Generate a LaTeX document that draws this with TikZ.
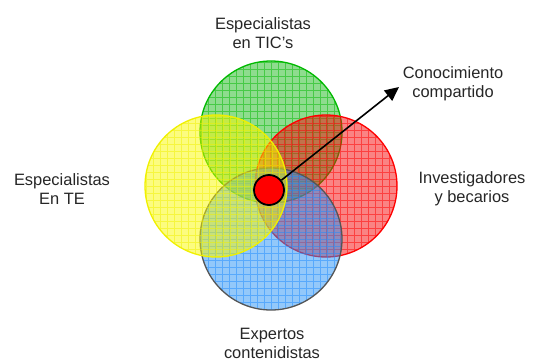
\documentclass[tikz,border=0pt]{standalone}
\usepackage{fontspec}
\setmainfont{Liberation Sans}
\usetikzlibrary{arrows.meta}
\definecolor{gstroke}{RGB}{0,185,0}
\definecolor{gfill}{RGB}{30,185,30}
\definecolor{rstroke}{RGB}{255,0,0}
\definecolor{rfill}{RGB}{245,10,10}
\definecolor{ystroke}{RGB}{240,240,0}
\definecolor{yfill}{RGB}{250,250,0}
\definecolor{bstroke}{RGB}{85,85,85}
\definecolor{bfill}{RGB}{40,145,245}
\definecolor{bgrid}{RGB}{30,140,255}
\begin{document}
\begin{tikzpicture}[x=1bp,y=-1bp]
\useasboundingbox (0,0) rectangle (537,360);
\tikzset{
 venn/.style n args={3}{circle, inner sep=0pt, minimum size=142bp, draw=#1, line width=1.3bp,
   fill=#2, fill opacity=0.5,
   path picture={\draw[#3, line width=0.45bp, opacity=0.5, step=7bp]
     (path picture bounding box.south west) grid (path picture bounding box.north east);}},
 lbl/.style={align=center, font=\fontsize{16.5}{19}\selectfont, text=black!85, inner sep=0pt}
}
\node[venn={gstroke}{gfill}{gstroke}] (tic) at (271,132) {};
\node[venn={rstroke}{rfill}{rstroke}] (inv) at (326,186) {};
\node[venn={bstroke}{bfill}{bgrid}] (exp) at (271,239) {};
\node[venn={ystroke}{yfill}{ystroke}] (te) at (216,186) {};
\node[circle, inner sep=0pt, minimum size=30bp, draw=black, line width=1.8bp, fill=red] (c0) at (269,190) {};
\coordinate (tip) at (399,87);
\draw[line width=1.6bp, -{Triangle[length=14bp,width=13bp]}] (c0) -- (tip);
\node[lbl] (l1) at (263,33) {Especialistas\\en TIC’s};
\node[lbl] (l2) at (453,84) {Conocimiento\\compartido};
\node[lbl] (l3) at (472,189) {Investigadores\\y becarios};
\node[lbl] (l4) at (62,189) {Especialistas\\En TE};
\node[lbl] (l5) at (272,343) {Expertos\\contenidistas};
\end{tikzpicture}
\end{document}
